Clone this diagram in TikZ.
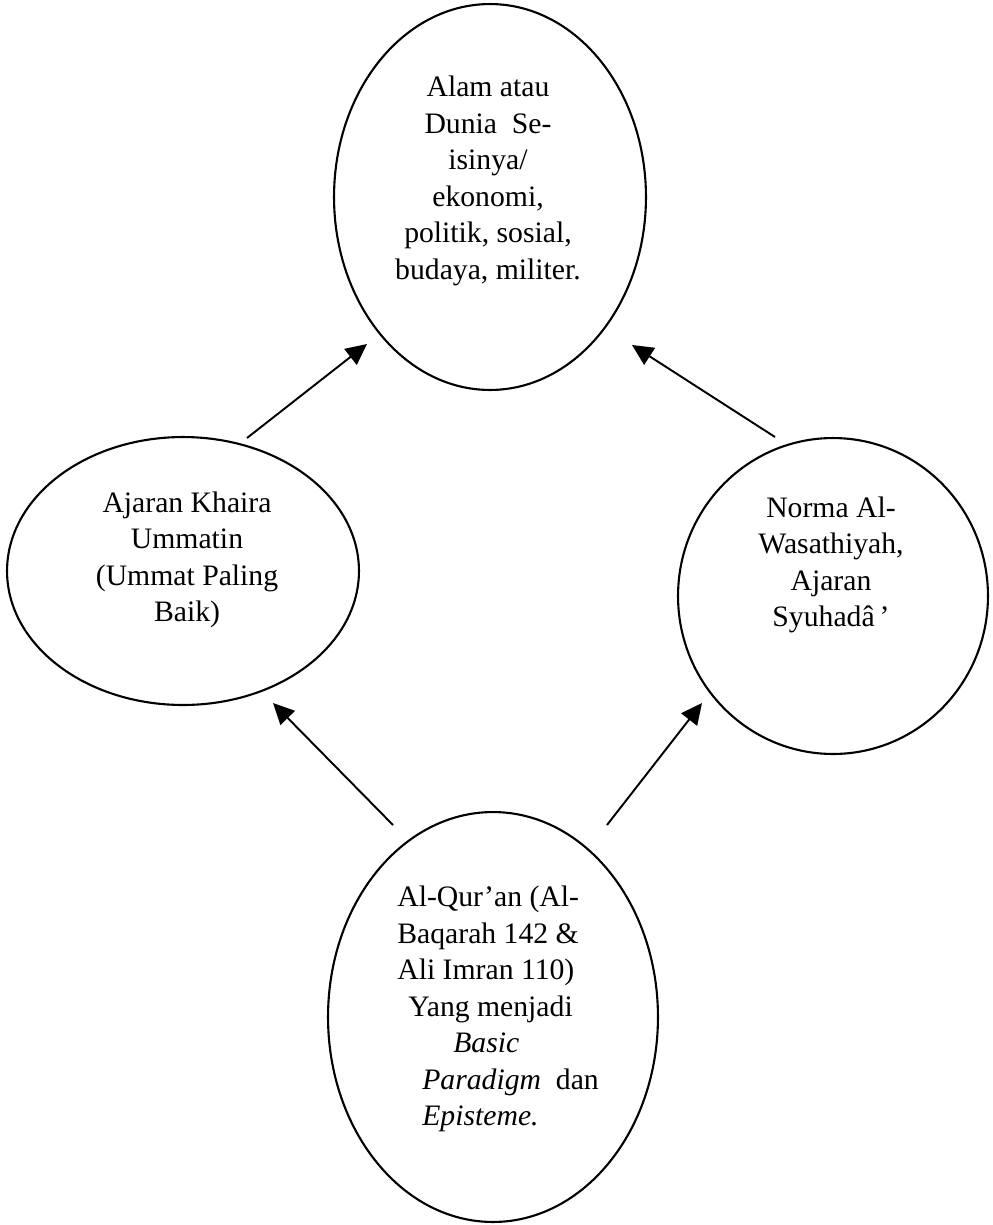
\documentclass[tikz,border=0pt]{standalone}
\usepackage{fontspec}
\setmainfont{Liberation Serif}
\usetikzlibrary{shapes.geometric,arrows.meta}

\begin{document}
\begin{tikzpicture}[x=0.02cm,y=-0.02cm,
  bubble/.style={draw, ellipse, line width=1.2pt, inner sep=0pt},
  words/.style={align=center, inner sep=0pt, font=\fontsize{16.9}{20.8}\selectfont},
  link/.style={line width=1.1pt, -{Triangle[length=0.42cm,width=0.4cm]}}]
\useasboundingbox (0,0) rectangle (993,1225);

\node[bubble, minimum width=6.24cm, minimum height=7.72cm] (alam) at (490,197) {};
\node[bubble, minimum width=7.04cm, minimum height=5.36cm] (khaira) at (183,571) {};
\node[bubble, minimum width=6.2cm, minimum height=6.32cm] (norma) at (833,596) {};
\node[bubble, minimum width=6.6cm, minimum height=8.2cm] (quran) at (493,1017) {};

\node[words] (alamtext) at (488,181) {Alam atau\\Dunia\ \ Se-\\isinya/\\ekonomi,\\politik, sosial,\\budaya, militer.};
\node[words] (khairatext) at (187,560) {Ajaran Khaira\\Ummatin\\(Ummat Paling\\Baik)};
\node[words] (normatext) at (831,565) {Norma Al-\\Wasathiyah,\\Ajaran\\Syuhadâ\,’};
\node[words, align=left, anchor=west] (qurantext) at (397,1009) {Al-Qur’an (Al-\\Baqarah 142 \&\\Ali Imran 110)\\\hspace*{0.22cm}Yang menjadi\\\hspace*{1.12cm}\textit{Basic}\\\hspace*{0.5cm}\textit{Paradigm}\ \ dan\\\hspace*{0.5cm}\textit{Episteme.}};

\coordinate (khairaout) at (247,438);
\coordinate (alamleft) at (367,344);
\coordinate (normaout) at (775,437);
\coordinate (alamright) at (632,345);
\coordinate (quranleft) at (393,825);
\coordinate (khairain) at (273,703);
\coordinate (quranright) at (607,825);
\coordinate (normain) at (702,703);

\path[draw,link] (khairaout) -- (alamleft);
\path[draw,link] (normaout) -- (alamright);
\path[draw,link] (quranleft) -- (khairain);
\path[draw,link] (quranright) -- (normain);
\end{tikzpicture}
\end{document}
